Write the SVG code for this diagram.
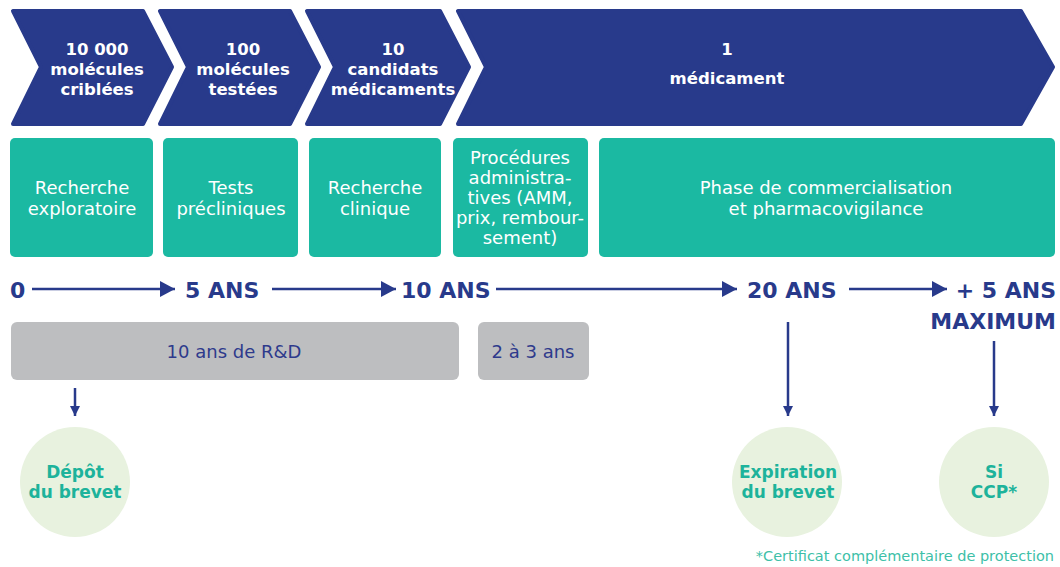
<svg xmlns="http://www.w3.org/2000/svg" width="1060" height="567" viewBox="0 0 1060 567">
<style>
.chev{fill:#283A8B;stroke:#283A8B;stroke-width:4;stroke-linejoin:round}
.ct{font-family:"DejaVu Sans","Liberation Sans",sans-serif;font-weight:bold;font-size:16.5px;fill:#FFFFFF;text-anchor:middle}
.box{fill:#1BB9A2}
.bt{font-family:"DejaVu Sans","Liberation Sans",sans-serif;font-size:18px;fill:#FFFFFF;text-anchor:middle}
.tl{font-family:"DejaVu Sans","Liberation Sans",sans-serif;font-weight:bold;font-size:22px;fill:#283A8B}
.gray{fill:#BDBEC0}
.gt{font-family:"DejaVu Sans","Liberation Sans",sans-serif;font-size:18px;fill:#2E3A8C;text-anchor:middle}
.circ{fill:#E8F2DF}
.cir{font-family:"DejaVu Sans","Liberation Sans",sans-serif;font-weight:bold;font-size:17px;fill:#1DB39B;text-anchor:middle}
.conn line{stroke:#283A8B;stroke-width:2.5;fill:none}
.note{font-family:"DejaVu Sans","Liberation Sans",sans-serif;font-size:14.5px;fill:#3DBFA8;text-anchor:end}
</style>
<defs>
<marker id="ah" markerUnits="userSpaceOnUse" markerWidth="16" markerHeight="17" refX="15" refY="8" orient="auto">
<path d="M0,0 L15,8 L0,16 Z" fill="#283A8B"/>
</marker>
<marker id="ahs" markerUnits="userSpaceOnUse" markerWidth="11" markerHeight="11" refX="10" refY="5" orient="auto">
<path d="M0,0 L10,5 L0,10 Z" fill="#283A8B"/>
</marker>
</defs>

<g id="chevron1">
<polygon class="chev" points="13,11 143,11 172,67 143,124 13,124 41,67"/>
<text class="ct" x="97" y="55">10 000</text>
<text class="ct" x="97" y="75">molécules</text>
<text class="ct" x="97" y="95">criblées</text>
</g>
<g id="chevron2">
<polygon class="chev" points="160,11 290,11 319,67 290,124 160,124 188,67"/>
<text class="ct" x="243" y="55">100</text>
<text class="ct" x="243" y="75">molécules</text>
<text class="ct" x="243" y="95">testées</text>
</g>
<g id="chevron3">
<polygon class="chev" points="307,11 440,11 469,67 440,124 307,124 335,67"/>
<text class="ct" x="393" y="55">10</text>
<text class="ct" x="393" y="75">candidats</text>
<text class="ct" x="393" y="95">médicaments</text>
</g>
<g id="chevron4">
<polygon class="chev" points="458,11 1021,11 1053,67 1021,124 458,124 486,67"/>
<text class="ct" x="727" y="55">1</text>
<text class="ct" x="727" y="84">médicament</text>
</g>

<g id="box1">
<rect class="box" x="10" y="138" width="143" height="119" rx="5"/>
<text class="bt" x="82" y="194">Recherche</text>
<text class="bt" x="82" y="215">exploratoire</text>
</g>
<g id="box2">
<rect class="box" x="163" y="138" width="135" height="119" rx="5"/>
<text class="bt" x="231" y="194">Tests</text>
<text class="bt" x="231" y="215">précliniques</text>
</g>
<g id="box3">
<rect class="box" x="309" y="138" width="132" height="119" rx="5"/>
<text class="bt" x="375" y="194">Recherche</text>
<text class="bt" x="375" y="215">clinique</text>
</g>
<g id="box4">
<rect class="box" x="453" y="138" width="135" height="119" rx="5"/>
<text class="bt" x="520" y="164">Procédures</text>
<text class="bt" x="520" y="184">administra-</text>
<text class="bt" x="520" y="204">tives (AMM,</text>
<text class="bt" x="520" y="224">prix, rembour-</text>
<text class="bt" x="520" y="244">sement)</text>
</g>
<g id="box5">
<rect class="box" x="599" y="138" width="456" height="119" rx="5"/>
<text class="bt" x="826" y="194">Phase de commercialisation</text>
<text class="bt" x="826" y="215">et pharmacovigilance</text>
</g>

<g id="t0"><text class="tl" x="10" y="298">0</text></g>
<g id="t5"><text class="tl" x="185" y="298">5 ANS</text></g>
<g id="t10"><text class="tl" x="401" y="298">10 ANS</text></g>
<g id="t20"><text class="tl" x="747" y="298">20 ANS</text></g>
<g id="t25">
<text class="tl" x="1056" y="298" text-anchor="end">+ 5 ANS</text>
<text class="tl" x="1056" y="329" text-anchor="end">MAXIMUM</text>
</g>

<g id="gray1">
<rect class="gray" x="11" y="322" width="448" height="58" rx="6"/>
<text class="gt" x="234" y="358">10 ans de R&amp;D</text>
</g>
<g id="gray2">
<rect class="gray" x="478" y="322" width="111" height="58" rx="6"/>
<text class="gt" x="533" y="358">2 à 3 ans</text>
</g>

<g id="circle1">
<circle class="circ" cx="75" cy="482" r="55"/>
<text class="cir" x="75" y="478">Dépôt</text>
<text class="cir" x="75" y="498">du brevet</text>
</g>
<g id="circle2">
<circle class="circ" cx="787" cy="482" r="55"/>
<text class="cir" x="788" y="478">Expiration</text>
<text class="cir" x="788" y="498">du brevet</text>
</g>
<g id="circle3">
<circle class="circ" cx="994" cy="482" r="55"/>
<text class="cir" x="994" y="478">Si</text>
<text class="cir" x="994" y="498">CCP*</text>
</g>

<g id="connectors" class="conn">
<line x1="32" y1="289" x2="175" y2="289" marker-end="url(#ah)"/>
<line x1="272" y1="289" x2="396" y2="289" marker-end="url(#ah)"/>
<line x1="496" y1="289" x2="737" y2="289" marker-end="url(#ah)"/>
<line x1="849" y1="289" x2="947" y2="289" marker-end="url(#ah)"/>
<line x1="75" y1="388" x2="75" y2="416" marker-end="url(#ahs)"/>
<line x1="788" y1="322" x2="788" y2="416" marker-end="url(#ahs)"/>
<line x1="994" y1="341" x2="994" y2="416" marker-end="url(#ahs)"/>
</g>

<text class="note" x="1054" y="561">*Certificat complémentaire de protection</text>
</svg>
